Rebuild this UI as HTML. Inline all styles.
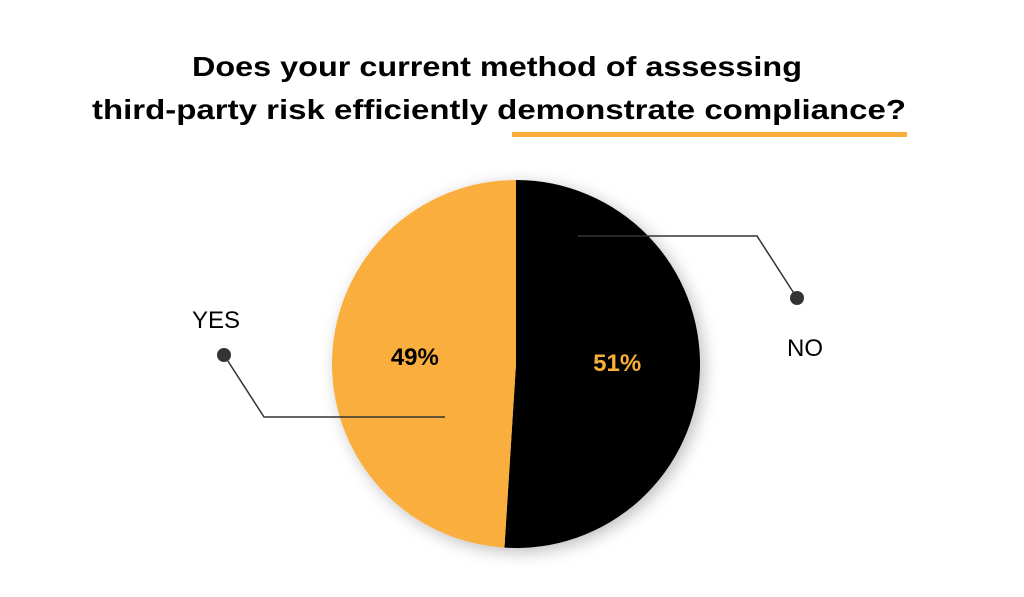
<!DOCTYPE html>
<html><head><meta charset="utf-8"><style>body{margin:0;background:#fff}svg{display:block}</style></head>
<body>
<svg width="1024" height="597" viewBox="0 0 1024 597" font-family="Liberation Sans, sans-serif">
<defs><filter id="sh" x="-20%" y="-20%" width="140%" height="140%"><feDropShadow dx="4" dy="4" stdDeviation="8" flood-color="#000" flood-opacity="0.25"/></filter></defs>
<text x="497" y="76" text-anchor="middle" font-size="28" font-weight="bold" textLength="610" lengthAdjust="spacingAndGlyphs">Does your current method of assessing</text>
<text x="499" y="119" text-anchor="middle" font-size="28" font-weight="bold" textLength="814" lengthAdjust="spacingAndGlyphs">third-party risk efficiently demonstrate compliance?</text>
<rect x="512" y="132" width="395" height="5" fill="#f9ae3c"/>
<g id="pie" filter="url(#sh)"></g>
<g id="labels"></g>
</svg>
<script>
const categories = ["NO", "YES"];
const values = [51, 49];
const valueLabels = ["51%", "49%"];
const colors = ["#000000", "#f9ae3c"];
const textColors = ["#f9ae3c", "#000000"];
const cx = 516, cy = 364, r = 184;
const ns = "http://www.w3.org/2000/svg";
const pie = document.getElementById("pie");
const labels = document.getElementById("labels");
const total = values.reduce((a,b)=>a+b,0);
function pt(a, rr){return [cx + rr*Math.sin(a), cy - rr*Math.cos(a)];}
let start = 0;
values.forEach((v,i)=>{
  const ang = v/total*2*Math.PI;
  const [x1,y1] = pt(start,r), [x2,y2] = pt(start+ang,r);
  const p = document.createElementNS(ns,"path");
  p.setAttribute("d",`M${cx},${cy} L${x1},${y1} A${r},${r} 0 ${ang>Math.PI?1:0} 1 ${x2},${y2} Z`);
  p.setAttribute("fill",colors[i]);
  
  
  pie.appendChild(p);
  const mid = start + ang/2;
  const [tx,ty] = pt(mid, r*0.55);
  const t = document.createElementNS(ns,"text");
  t.setAttribute("x",tx); t.setAttribute("y",ty+4 + (i===0?0:0));
  t.setAttribute("text-anchor","middle"); t.setAttribute("font-size","24"); t.setAttribute("font-weight","bold");
  t.setAttribute("fill",textColors[i]);
  t.textContent = valueLabels[i];
  
  
  labels.appendChild(t);
  start += ang;
});
// leader lines & category labels
const leaders = [
  {pts:"578,236 757,236 797,298", dot:[797,298], lx:805, ly:356},
  {pts:"445,417 264,417 224,355", dot:[224,355], lx:216, ly:328}
];
leaders.forEach((L,i)=>{
  const pl = document.createElementNS(ns,"polyline");
  pl.setAttribute("points",L.pts); pl.setAttribute("fill","none"); pl.setAttribute("stroke","#333"); pl.setAttribute("stroke-width","1.5");
  
  
  labels.appendChild(pl);
  const c = document.createElementNS(ns,"circle");
  c.setAttribute("cx",L.dot[0]); c.setAttribute("cy",L.dot[1]); c.setAttribute("r","7"); c.setAttribute("fill","#333");
  
  
  labels.appendChild(c);
  const t = document.createElementNS(ns,"text");
  t.setAttribute("x",L.lx); t.setAttribute("y",L.ly); t.setAttribute("text-anchor","middle"); t.setAttribute("font-size","24");
  t.textContent = categories[i];
  
  
  labels.appendChild(t);
});
</script>
</body></html>
